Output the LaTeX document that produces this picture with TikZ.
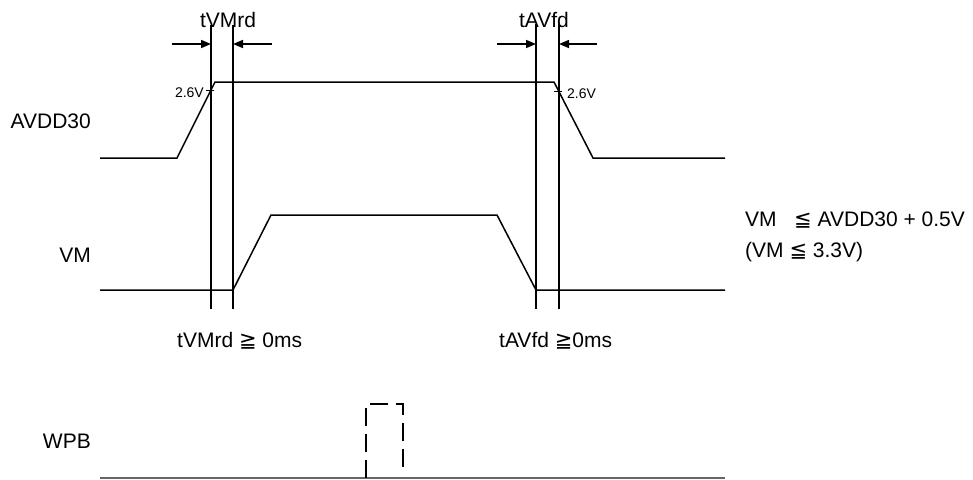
\documentclass[tikz,border=0pt]{standalone}
\usepackage{fontspec}
\setmainfont{Liberation Sans}
\newfontfamily\symf{DejaVu Sans}
\usetikzlibrary{arrows.meta}
\begin{document}
\begin{tikzpicture}[x=1pt,y=-1pt,
  wave/.style={line width=1.5pt, line join=miter},
  guide/.style={line width=1.5pt},
  tick/.style={line width=1pt},
  lbl/.style={inner sep=0pt, font=\fontsize{21}{25}\selectfont},
  small/.style={inner sep=0pt, font=\fontsize{14}{16}\selectfont},
  dimarrow/.style={line width=1.5pt, -{Triangle[length=10pt,width=8pt]}},
  pulse/.style={line width=1.5pt, dash pattern=on 18pt off 8pt},
  base/.style={line width=1.2pt, black!60}]
\useasboundingbox (0,0) rectangle (973,479);

% signal labels
\node[lbl, anchor=base east] (lavdd) at (91,128) {AVDD30};
\node[lbl, anchor=base east] (lvm) at (91,262) {VM};
\node[lbl, anchor=base east] (lwpb) at (91,448) {WPB};

% timing labels
\node[lbl, anchor=base] (ttvm) at (228,27) {tVMrd};
\node[lbl, anchor=base] (ttav) at (544,27) {tAVfd};
\node[lbl, anchor=base west] (btvm) at (177,347) {tVMrd {\symf ≧} 0ms};
\node[lbl, anchor=base west] (btav) at (499,347) {tAVfd {\symf ≧}0ms};
\node[lbl, anchor=base west] (cond1) at (745,226) {VM\ \ \ {\symf ≦} AVDD30 + 0.5V};
\node[lbl, anchor=base west] (cond2) at (745,257) {(VM {\symf ≦} 3.3V)};
\node[small, anchor=base east] (v26a) at (204,97) {2.6V};
\node[small, anchor=base west] (v26b) at (567,98) {2.6V};

% AVDD30 waveform
\draw[wave] (100,158) -- (177,158) -- (215,82) -- (554,82) -- (593,158) -- (725,158);
% VM waveform
\draw[wave] (100,290) -- (233,290) -- (271,215) -- (497,215) -- (536,290) -- (725,290);

% guide lines
\coordinate (g1t) at (211,25); \coordinate (g1b) at (211,309);
\coordinate (g2t) at (233,25); \coordinate (g2b) at (233,309);
\coordinate (g3t) at (536,24); \coordinate (g3b) at (536,309);
\coordinate (g4t) at (559,24); \coordinate (g4b) at (559,309);
\draw[guide] (g1t) -- (g1b);
\draw[guide] (g2t) -- (g2b);
\draw[guide] (g3t) -- (g3b);
\draw[guide] (g4t) -- (g4b);

% dimension arrows
\coordinate (a1s) at (172,44); \coordinate (a1e) at (211,44);
\coordinate (a2s) at (272,44); \coordinate (a2e) at (233,44);
\coordinate (a3s) at (497,44); \coordinate (a3e) at (536,44);
\coordinate (a4s) at (597,44); \coordinate (a4e) at (559,44);
\draw[dimarrow] (a1s) -- (a1e);
\draw[dimarrow] (a2s) -- (a2e);
\draw[dimarrow] (a3s) -- (a3e);
\draw[dimarrow] (a4s) -- (a4e);

% 2.6V ticks
\draw[tick] (206,90) -- (214,90);
\draw[tick] (554,91) -- (562,91);

% WPB
\draw[base] (100,478) -- (725,478);
\draw[pulse] (366,478) -- (366,404) -- (403,404) -- (403,473);
\end{tikzpicture}
\end{document}
